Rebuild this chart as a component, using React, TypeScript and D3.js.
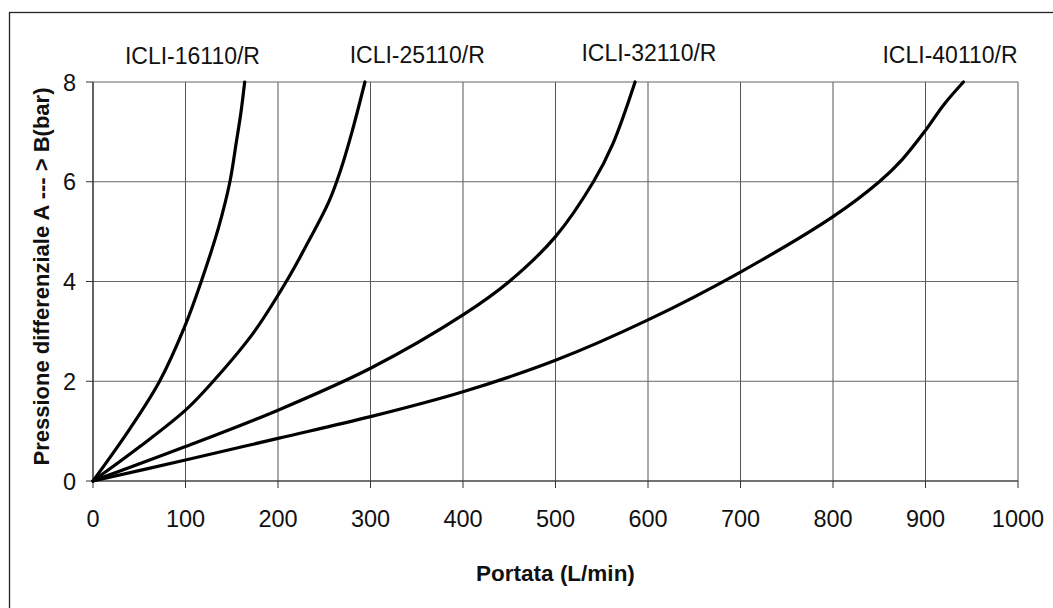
import React from "react";
import * as d3 from "d3";

const xTicks = [0, 100, 200, 300, 400, 500, 600, 700, 800, 900, 1000];
const yTicks = [0, 2, 4, 6, 8];

const flow16 = [0, 40, 72, 99, 117, 136, 148, 155, 160, 164];
const p16 = [0, 1.05, 2.0, 3.09, 4.0, 5.1, 6.0, 6.8, 7.4, 8.0];

const flow25 = [0, 50, 100, 130, 173, 209, 230, 255, 268, 280, 294];
const p25 = [0, 0.68, 1.42, 2.0, 2.96, 4.0, 4.7, 5.6, 6.25, 7.0, 8.0];

const flow32 = [0, 100, 200, 300, 400, 450, 500, 541, 562, 586];
const p32 = [0, 0.69, 1.42, 2.26, 3.33, 4.0, 4.9, 6.0, 6.76, 8.0];

const flow40 = [0, 100, 200, 300, 400, 500, 600, 700, 800, 850, 875, 900, 920, 941];
const p40 = [0, 0.42, 0.855, 1.29, 1.79, 2.42, 3.23, 4.19, 5.3, 6.0, 6.45, 7.03, 7.55, 8.0];

const seriesNames = ["ICLI-16110/R", "ICLI-25110/R", "ICLI-32110/R", "ICLI-40110/R"];
const labelFlow = [107.5, 350.5, 601, 926.5];
const labelBaseline = [64, 63, 61, 63];

const xTitle = "Portata (L/min)";
const yTitle = "Pressione differenziale A --- > B(bar)";

const W = 1053;
const H = 608;
const FONT = "'Liberation Sans', Arial, Helvetica, sans-serif";

export default function App() {
  const x = d3.scaleLinear().domain([0, 1000]).range([93, 1018]);
  const y = d3.scaleLinear().domain([0, 8]).range([481, 82]);

  const series = [
    flow16.map((f, i) => [f, p16[i]] as [number, number]),
    flow25.map((f, i) => [f, p25[i]] as [number, number]),
    flow32.map((f, i) => [f, p32[i]] as [number, number]),
    flow40.map((f, i) => [f, p40[i]] as [number, number]),
  ];

  const line = d3
    .line<[number, number]>()
    .x((d) => x(d[0]))
    .y((d) => y(d[1]))
    .curve(d3.curveCatmullRom.alpha(0.5));

  const [x0, x1] = x.range();
  const [y0, y1] = y.range();

  return (
    <svg
      width={W}
      height={H}
      style={{ position: "absolute", left: 0, top: 0, background: "#fff" }}
    >
      <rect x={0} y={0} width={W} height={H} fill="#fff" />
      <rect x={9.5} y={12.5} width={1200} height={800} fill="none" stroke="#222" strokeWidth={1.3} />

      {xTicks.map((t) => (
        <line key={"gx" + t} x1={x(t)} x2={x(t)} y1={y1} y2={y0} stroke="#555" strokeWidth={1} />
      ))}
      {yTicks.map((t) => (
        <line key={"gy" + t} x1={x0} x2={x1} y1={y(t)} y2={y(t)} stroke="#666" strokeWidth={1} />
      ))}

      <line x1={x0} x2={x1} y1={y0} y2={y0} stroke="#333" strokeWidth={1.2} />
      <line x1={x0} x2={x0} y1={y0} y2={y1} stroke="#333" strokeWidth={1.2} />

      {xTicks.map((t) => (
        <g key={"tx" + t}>
          <line x1={x(t)} x2={x(t)} y1={y0} y2={y0 + 7} stroke="#333" strokeWidth={1} />
          <text x={x(t)} y={527} textAnchor="middle" fontFamily={FONT} fontSize={23.5} fill="#111">
            {t}
          </text>
        </g>
      ))}
      {yTicks.map((t) => (
        <g key={"ty" + t}>
          <line x1={x0 - 7} x2={x0} y1={y(t)} y2={y(t)} stroke="#333" strokeWidth={1} />
          <text x={76} y={y(t) + 8.5} textAnchor="end" fontFamily={FONT} fontSize={23.5} fill="#111">
            {t}
          </text>
        </g>
      ))}

      {series.map((s, i) => (
        <path
          key={"s" + i}
          d={line(s) || ""}
          fill="none"
          stroke="#000"
          strokeWidth={3.2}
          strokeLinejoin="round"
          strokeLinecap="round"
        />
      ))}

      {seriesNames.map((n, i) => (
        <text
          key={"l" + i}
          x={x(labelFlow[i])}
          y={labelBaseline[i]}
          textAnchor="middle"
          fontFamily={FONT}
          fontSize={23}
          fill="#111"
        >
          {n}
        </text>
      ))}

      <text
        x={(x0 + x1) / 2}
        y={581}
        textAnchor="middle"
        fontFamily={FONT}
        fontWeight="bold"
        fontSize={22.5}
        fill="#111"
      >
        {xTitle}
      </text>
      <text
        transform={`translate(49, ${(y0 + y1) / 2 - 5}) rotate(-90)`}
        textAnchor="middle"
        fontFamily={FONT}
        fontWeight="bold"
        fontSize={22}
        fill="#111"
      >
        {yTitle}
      </text>
    </svg>
  );
}
